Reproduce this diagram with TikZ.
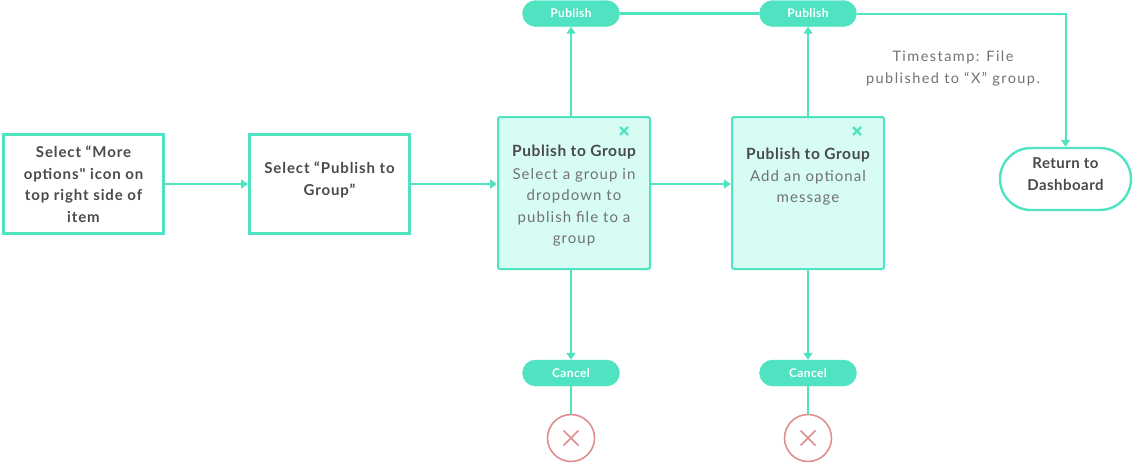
\documentclass[tikz,border=0pt]{standalone}
\usepackage{fontspec}
\setmainfont{Lato}
\newfontfamily\lsbody[LetterSpace=7]{Lato}
\newfontfamily\lsbold[LetterSpace=6]{Lato}
\newfontfamily\lstitle[LetterSpace=4]{Lato}
\newfontfamily\lsnote[LetterSpace=10]{Lato}
\newfontfamily\lspill[LetterSpace=3]{Lato}
\usetikzlibrary{arrows.meta,shapes.misc}
\definecolor{teal}{HTML}{50E3C2}
\definecolor{mint}{HTML}{D6FCF3}
\definecolor{dark}{HTML}{4A4A4A}
\definecolor{mid}{HTML}{727272}
\definecolor{pink}{HTML}{DE8E8E}
\tikzset{
  plainbox/.style={draw=teal,line width=3pt,fill=white,minimum width=160pt,minimum height=99pt,inner sep=0pt},
  cardbox/.style={draw=teal,line width=2pt,fill=mint,rounded corners=2pt,minimum width=152pt,minimum height=152pt,inner sep=0pt},
  pill/.style={rounded rectangle,fill=teal,draw=teal,minimum width=97pt,minimum height=26pt,inner sep=0pt,text=white,font=\lspill\fontsize{12}{14}\selectfont\bfseries},
  endpill/.style={rounded rectangle,fill=white,draw=teal,line width=2.4pt,minimum width=131pt,minimum height=62pt,inner sep=0pt,text=dark,align=center,font=\lspill\fontsize{15}{22}\selectfont\bfseries},
  boldtxt/.style={text=dark,align=center,font=\lsbold\fontsize{15}{21.5}\selectfont\bfseries,inner sep=0pt},
  titletxt/.style={text=dark,anchor=base,font=\lstitle\fontsize{15.5}{21.5}\selectfont\bfseries,inner sep=0pt},
  bodytxt/.style={text=mid,align=center,anchor=north,font=\lsbody\fontsize{15}{21.5}\selectfont,inner sep=0pt},
  conn/.style={draw=teal,line width=2.5pt},
  arr/.style={conn,-{Triangle[length=7pt,width=9pt]}},
  stopc/.style={circle,draw=pink,line width=1.6pt,fill=white,minimum size=47pt,inner sep=0pt},
  xmark/.style={draw=teal,line width=2.2pt},
  pmark/.style={draw=pink,line width=1.6pt}
}
\begin{document}
\begin{tikzpicture}[x=1pt,y=-1pt]
\useasboundingbox (0,0) rectangle (1134,464);
% boxes
\node[plainbox] (b1) at (83.5,184) {};
\node[boldtxt] (b1t) at (83.5,184) {Select “More\\options" icon on\\top right side of\\item};
\node[plainbox] (b2) at (329.5,184) {};
\node[boldtxt] (b2t) at (329.5,180) {Select “Publish to\\Group”};
\node[cardbox] (b3) at (574,193) {};
\node[titletxt] (b3h) at (574,156) {Publish to Group};
\node[bodytxt] (b3t) at (574,168) {Select a group in\\dropdown to\\publish file to a\\group};
\node[cardbox] (b4) at (808,193) {};
\node[titletxt] (b4h) at (808,159) {Publish to Group};
\node[bodytxt] (b4t) at (808,170) {Add an optional\\message};
% close marks
\coordinate (x1) at (624,131);
\coordinate (x2) at (857,131);
\foreach \c in {x1,x2}{
  \draw[xmark] ([shift={(-4,-4)}]\c) -- ([shift={(4,4)}]\c);
  \draw[xmark] ([shift={(-4,4)}]\c) -- ([shift={(4,-4)}]\c);
}
% pills
\node[pill] (p1) at (571,13.5) {Publish};
\node[pill] (p2) at (808,13.5) {Publish};
\node[pill] (c1) at (571,373) {Cancel};
\node[pill] (c2) at (808,373) {Cancel};
\node[endpill] (ret) at (1065.5,179) {};
\node[boldtxt,font=\lspill\fontsize{15}{22}\selectfont\bfseries] (rett) at (1065.5,174) {Return to\\Dashboard};
\node[text=mid,align=center,font=\lsnote\fontsize{14.5}{22}\selectfont,inner sep=0pt] (ts) at (953,68.5) {Timestamp: File\\published to “X” group.};
% stop circles
\node[stopc] (s1) at (571,438) {};
\node[stopc] (s2) at (808,438) {};
\foreach \c in {s1,s2}{
  \draw[pmark] ([shift={(-7.5,-7.5)}]\c.center) -- ([shift={(7.5,7.5)}]\c.center);
  \draw[pmark] ([shift={(-7.5,7.5)}]\c.center) -- ([shift={(7.5,-7.5)}]\c.center);
}
% connectors
\draw[arr] (b1.east) -- (b2.west);
\draw[arr] (b2.east) -- (b3.west |- b2.east);
\draw[arr] (b3.east |- b2.east) -- (b4.west |- b2.east);
\draw[arr] (b3.north -| p1) -- (p1.south);
\draw[arr] (b4.north -| p2) -- (p2.south);
\draw[arr] (b3.south -| c1) -- (c1.north);
\draw[arr] (b4.south -| c2) -- (c2.north);
\draw[conn] (c1.south) -- (s1.north);
\draw[conn] (c2.south) -- (s2.north);
\draw[conn] (p1.east) -- (p2.west);
\coordinate (corner) at (ret.north |- p2.east);
\draw[conn,line width=2pt,-{Triangle[length=7pt,width=9pt]}] (p2.east) -- (corner) -- (ret.north);
\end{tikzpicture}
\end{document}
